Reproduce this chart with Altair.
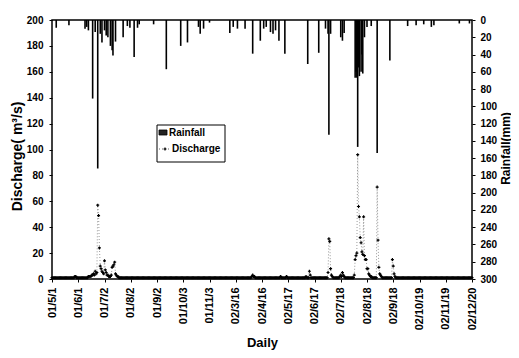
import altair as alt
import pandas as pd

# ---------------- data ----------------
tick_labels = ["01/5/1", "01/6/1", "01/7/2", "01/8/2", "01/9/2", "01/10/3", "01/11/3",
               "02/3/16", "02/4/16", "02/5/17", "02/6/17", "02/7/18", "02/8/18",
               "02/9/18", "02/10/19", "02/11/19", "02/12/20"]
tick_pos = [0, 31, 62, 93, 124, 155, 186, 217, 248, 279, 310, 341, 372, 403, 434, 465, 496]

rain_day = [5, 20, 39, 41, 43, 48, 51, 54, 57, 59, 62, 64, 66, 69, 71, 72, 75, 84, 89, 92,
            97, 101, 103, 120, 135, 152, 160, 173, 175, 179, 186, 210, 214, 219, 228, 237,
            246, 250, 253, 258, 261, 264, 268, 275, 302, 315, 323, 326, 327, 329, 341, 343,
            345, 358, 359, 360, 361, 362, 363, 365, 366, 367, 369, 372, 377, 384, 399, 420,
            430, 439, 448, 451, 481, 493]
rain_mm = [9, 6, 10, 8, 12, 91, 14, 172, 16, 26, 12, 18, 20, 30, 35, 41, 25, 20, 7, 9,
           43, 9, 5, 5, 57, 30, 26, 8, 16, 10, 3, 15, 8, 10, 10, 39,
           24, 10, 8, 14, 16, 12, 24, 39, 51, 38, 10, 16, 133, 16, 20, 24,
           15, 67, 60, 67, 147, 55, 65, 60, 40, 62, 20, 8, 7, 154, 47, 7,
           6, 5, 8, 6, 4, 4]

# daily discharge (m3/s), day 0 .. 496
discharge = [
    1, 1, 1, 1, 1, 1, 1, 1, 1, 1, 1, 1, 1, 1, 1, 1, 1, 1, 1, 1, 1, 1, 1, 1, 1, 1, 1, 2, 2, 1, 1,
    1, 1, 1, 1, 1, 1, 1, 1, 1, 1, 1, 1, 2, 2, 2, 2, 3, 3, 4, 3, 6, 4, 5, 57, 49, 24, 10, 8, 6, 5, 4,
    14, 7, 5, 3, 3, 2, 2, 2, 3, 9, 10, 11, 13, 4, 3, 2, 2, 1, 1, 1, 1, 1, 1, 1, 1, 1, 1, 1, 1, 1, 1,
    1, 1, 1, 1, 1, 1, 1, 1, 1, 1, 1, 1, 1, 1, 1, 1, 1, 1, 1, 1, 1, 1, 1, 1, 1, 1, 1, 1, 1, 1, 1,
    1, 1, 1, 1, 1, 1, 1, 1, 1, 1, 1, 1, 1, 1, 1, 1, 1, 1, 1, 1, 1, 1, 1, 1, 1, 1, 1, 1, 1, 1, 1,
    1, 1, 1, 1, 1, 1, 1, 1, 1, 1, 1, 1, 1, 1, 1, 1, 1, 1, 1, 1, 1, 1, 1, 1, 1, 1, 1, 1, 1, 1, 1,
    1, 1, 1, 1, 1, 1, 1, 1, 1, 1, 1, 1, 1, 1, 1, 1, 1, 1, 1, 1, 1, 1, 1, 1, 1, 1, 1, 1, 1, 1, 1,
    1, 1, 1, 1, 1, 1, 1, 1, 1, 1, 1, 1, 1, 1, 1, 1, 1, 1, 1, 2, 3, 2, 2, 1, 1, 1, 1, 1, 1, 1, 1,
    1, 1, 1, 1, 1, 1, 1, 1, 1, 1, 1, 1, 1, 1, 1, 1, 1, 1, 1, 1, 1, 1, 2, 1, 1, 1, 1, 1, 1, 2, 1,
    1, 1, 1, 1, 1, 1, 1, 1, 1, 1, 1, 1, 1, 1, 1, 1, 1, 1, 1, 1, 1, 2, 1, 1, 1, 6, 3, 1, 1, 1, 1,
    1, 1, 1, 1, 1, 1, 1, 1, 1, 1, 1, 1, 1, 1, 1, 1, 5, 31, 29, 8, 3, 2, 1, 1, 1, 1, 1, 1, 1, 1, 2,
    3, 2, 5, 3, 2, 1, 1, 1, 1, 1, 1, 1, 1, 1, 1, 1, 3, 15, 18, 20, 96, 56, 48, 32, 28, 21, 19, 48, 18, 15, 15,
    8, 8, 4, 3, 2, 2, 1, 1, 1, 1, 1, 1, 71, 30, 9, 4, 3, 2, 1, 1, 1, 1, 1, 1, 1, 1, 1, 1, 1, 1, 15,
    10, 4, 2, 1, 1, 1, 1, 1, 1, 1, 1, 1, 1, 1, 1, 1, 1, 1, 1, 1, 1, 1, 1, 1, 1, 1, 1, 1, 1, 1, 1,
    1, 1, 1, 1, 1, 1, 1, 1, 1, 1, 1, 1, 1, 1, 1, 1, 1, 1, 1, 1, 1, 1, 1, 1, 1, 1, 1, 1, 1, 1, 1,
    1, 1, 1, 1, 1, 1, 1, 1, 1, 1, 1, 1, 1, 1, 1, 1, 1, 1, 1, 1, 1, 1, 1, 1, 1, 1, 1, 1, 1, 1, 1,
    1,
]

legend_labels = ["Rainfall", "Discharge"]

# ---------------- chart ----------------
FONT = "Liberation Sans"
q_df = pd.DataFrame({"day": list(range(len(discharge))), "q": discharge})
r_df = pd.DataFrame({"day": rain_day, "mm": rain_mm, "zero": [0] * len(rain_day)})
one = pd.DataFrame({"k": [0]})

label_js = "[" + ",".join("'" + t + "'" for t in tick_labels) + "][round(datum.value/31)]"

xscale = alt.Scale(domain=[0, 496], nice=False, zero=False)
xaxis = alt.Axis(values=tick_pos, labelExpr=label_js, labelAngle=270, title="Daily",
                 titleFontSize=13, titleFont=FONT, titleFontWeight="bold",
                 titleY=63, titleBaseline="middle",
                 labelFont=FONT, labelFontWeight="bold", labelFontSize=11,
                 labelColor="black", tickSize=3, tickColor="black", domain=False,
                 grid=False, labelPadding=5, labelOverlap=False)

rain = alt.Chart(r_df).mark_rule(color="black", strokeWidth=1.6).encode(
    x=alt.X("day:Q", scale=xscale, axis=xaxis),
    y=alt.Y("mm:Q", scale=alt.Scale(domain=[0, 300], reverse=True, nice=False),
            axis=alt.Axis(orient="right", values=list(range(0, 301, 20)), title="Rainfall(mm)",
                          titleAngle=270, titleX=33, titleY=128, titleAlign="center",
                          titleBaseline="middle", titleFont=FONT, titleFontSize=12,
                          titleFontWeight="bold", labelFont=FONT, labelFontSize=10,
                          labelFontWeight="bold", labelColor="black", tickSize=3,
                          tickColor="black", labelPadding=5, grid=False, domain=False)),
    y2="zero:Q",
)

qscale = alt.Scale(domain=[0, 200], nice=False)
qaxis = alt.Axis(orient="left", values=list(range(0, 201, 20)),
                 title="Discharge( m³/s)", titleAngle=270, titleX=-35, titleY=136,
                 titleAlign="center", titleBaseline="middle", titleFont=FONT,
                 titleFontSize=14, titleFontWeight="bold", labelFont=FONT,
                 labelFontSize=10, labelFontWeight="bold", labelColor="black",
                 tickSize=3, tickColor="black", labelPadding=6, grid=False,
                 domain=False)
qline = alt.Chart(q_df).mark_line(color="#555", strokeWidth=0.6, strokeDash=[1, 2]).encode(
    x=alt.X("day:Q", scale=xscale, axis=xaxis),
    y=alt.Y("q:Q", scale=qscale, axis=qaxis),
)
qpts = alt.Chart(q_df).mark_point(shape="cross", size=9, color="black", filled=True,
                                  opacity=1).encode(
    x=alt.X("day:Q", scale=xscale, axis=xaxis),
    y=alt.Y("q:Q", scale=qscale, axis=qaxis),
)
dis = alt.layer(qline, qpts)

# legend box
leg_box = alt.Chart(one).mark_rect(fill="white", stroke="black", strokeWidth=1).encode(
    x=alt.value(105), x2=alt.value(173), y=alt.value(105), y2=alt.value(142))
leg_sw = alt.Chart(one).mark_rect(fill="#222", stroke="black", strokeWidth=0.8).encode(
    x=alt.value(107), x2=alt.value(115), y=alt.value(110), y2=alt.value(115))
leg_t1 = alt.Chart(one).mark_text(text=legend_labels[0], align="left", baseline="middle",
                                  font=FONT, fontSize=10, fontWeight="bold", color="black").encode(
    x=alt.value(117), y=alt.value(113))
leg_ln = alt.Chart(one).mark_rule(color="#444", strokeWidth=0.8, strokeDash=[1, 2]).encode(
    x=alt.value(107), x2=alt.value(119), y=alt.value(129))
leg_pt = alt.Chart(one).mark_point(shape="cross", size=9, color="black", filled=True,
                                   opacity=1).encode(
    x=alt.value(113), y=alt.value(129))
leg_t2 = alt.Chart(one).mark_text(text=legend_labels[1], align="left", baseline="middle",
                                  font=FONT, fontSize=10, fontWeight="bold", color="black").encode(
    x=alt.value(120), y=alt.value(129))

main = alt.layer(rain, dis).resolve_scale(y="independent")

chart = alt.layer(main, leg_box, leg_sw, leg_t1, leg_ln, leg_pt, leg_t2).properties(
    width=420, height=259,
    autosize=alt.AutoSizeParams(type="none"),
    padding={"left": 44, "top": 12, "right": 39, "bottom": 71},
    background="white",
).configure_view(stroke="black", strokeWidth=1.5)

chart.save("out.html", embed_options={"renderer": "svg", "actions": False})
